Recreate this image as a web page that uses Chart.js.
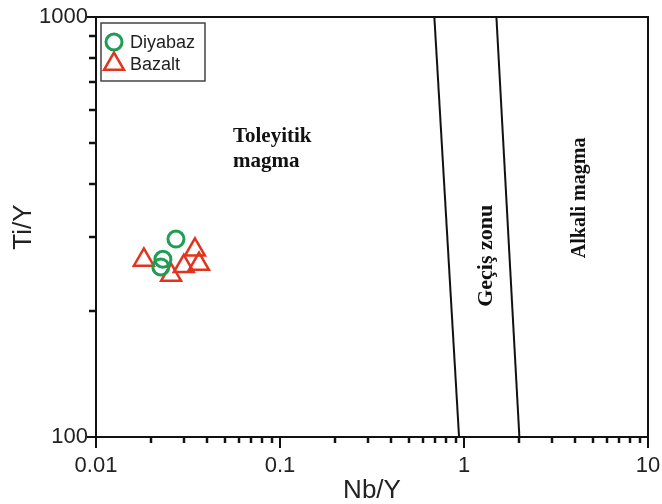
<!DOCTYPE html>
<html>
<head>
<meta charset="utf-8">
<script src="https://cdn.jsdelivr.net/npm/chart.js@4/dist/chart.umd.min.js"></script>
<style>
  html, body { margin: 0; padding: 0; background: #fff; }
  #wrap { width: 662px; height: 504px; }
</style>
</head>
<body>
<div id="wrap"><canvas id="ch"></canvas></div>
<script>
// ── Dados ──
const diyabazX = [0.0272, 0.0231, 0.0225];
const diyabazY = [296, 265, 254];
const bazaltX  = [0.0182, 0.0256, 0.0345, 0.0300, 0.0363];
const bazaltY  = [264, 243, 279, 255, 258];

// limites dos campos (Nb/Y em Ti/Y = 1000 e Ti/Y = 100)
const limite1X = [0.69, 0.94];
const limite2X = [1.50, 2.00];
const limiteY  = [1000, 100];

const xTickLabels = [0.01, 0.1, 1, 10];
const yTickLabels = [100, 1000];

// rótulos dos campos: [texto, x, y, rotação]
const campos = [
  ['Toleyitik',    0.0555, 504, 0],
  ['magma',        0.0555, 440, 0],
  ['Geçiş zonu',   1.317,  270, -90],
  ['Alkali magma', 4.27,   371, -90],
];

const VERDE = '#1f9d55';
const VERM  = '#e2341d';
const FONTE_CAMPO = { 'Alkali magma': 20, 'Geçiş zonu': 22 };

const pts = (xs, ys) => xs.map((x, i) => ({ x: x, y: ys[i] }));

// ticks menores em escala log
function logTicks(min, max) {
  const out = [];
  for (let d = min; d < max; d *= 10) {
    for (let k = 1; k < 10; k++) out.push(+(d * k).toPrecision(3));
  }
  out.push(max);
  return out;
}

// ── Plugin: ticks, rótulos dos campos e legenda ──
const extrasPlugin = {
  id: 'extras',
  afterDatasetsDraw(chart) {
    const ctx = chart.ctx;
    const xs = chart.scales.x, ys = chart.scales.y;
    const a = chart.chartArea;
    ctx.save();
    ctx.strokeStyle = '#111';
    ctx.lineWidth = 2;
    // moldura
    ctx.strokeRect(a.left, a.top, a.right - a.left, a.bottom - a.top);
    // ticks x
    logTicks(0.01, 10).forEach(v => {
      const px = Math.round(xs.getPixelForValue(v));
      const major = xTickLabels.includes(v);
      ctx.beginPath();
      ctx.moveTo(px, a.bottom);
      ctx.lineTo(px, a.bottom + (major ? 11 : 6));
      ctx.lineWidth = major ? 2 : 2.5;
      ctx.stroke();
    });
    // ticks y
    logTicks(100, 1000).forEach(v => {
      const py = Math.round(ys.getPixelForValue(v));
      const major = yTickLabels.includes(v);
      ctx.beginPath();
      ctx.moveTo(a.left, py);
      ctx.lineTo(a.left - (major ? 9 : 7), py);
      ctx.lineWidth = major ? 2 : 2.5;
      ctx.stroke();
    });

    // rótulos dos campos
    ctx.fillStyle = '#111';
    campos.forEach(c => {
      const px = xs.getPixelForValue(c[1]);
      const py = ys.getPixelForValue(c[2]);
      ctx.save();
      ctx.font = 'bold ' + (FONTE_CAMPO[c[0]] || 21) + 'px "Liberation Serif", "Times New Roman", serif';
      ctx.translate(px, py);
      ctx.rotate(c[3] * Math.PI / 180);
      ctx.textAlign = c[3] ? 'center' : 'left';
      ctx.textBaseline = c[3] ? 'middle' : 'alphabetic';
      ctx.fillText(c[0], 0, 0);
      ctx.restore();
    });

    // legenda
    const lx = a.left + 5, ly = a.top + 6;
    ctx.lineWidth = 1.5;
    ctx.strokeStyle = '#444';
    ctx.strokeRect(lx, ly, 104, 58);
    chart.data.datasets.filter(d => d.label).forEach((d, i) => {
      const cy = ly + 19 + i * 22;
      ctx.save();
      ctx.fillStyle = 'rgba(0,0,0,0)';
      ctx.strokeStyle = d.borderColor;
      ctx.lineWidth = d.borderWidth;
      Chart.helpers.drawPoint(ctx, {
        pointStyle: d.pointStyle, radius: d.pointRadius, borderWidth: d.borderWidth
      }, lx + 13, cy);
      ctx.restore();
      ctx.fillStyle = '#222';
      ctx.font = '18px "Liberation Sans", Arial, sans-serif';
      ctx.textAlign = 'left';
      ctx.textBaseline = 'middle';
      ctx.fillText(d.label, lx + 29, cy + 1);
    });
    ctx.restore();
  }
};

const limite = (xs) => ({
  type: 'line', data: pts(xs, limiteY), borderColor: '#111', borderWidth: 2,
  pointRadius: 0, fill: false, showLine: true
});

new Chart(document.getElementById('ch'), {
  type: 'scatter',
  data: {
    datasets: [
      limite(limite1X),
      limite(limite2X),
      { label: 'Diyabaz', data: pts(diyabazX, diyabazY), pointStyle: 'circle', pointRadius: 8,
        borderColor: VERDE, backgroundColor: 'transparent', borderWidth: 3, pointHoverRadius: 8 },
      { label: 'Bazalt', data: pts(bazaltX, bazaltY), pointStyle: 'triangle', pointRadius: 11.5,
        borderColor: VERM, backgroundColor: 'transparent', borderWidth: 2.5, pointHoverRadius: 11.5 },
    ]
  },
  plugins: [extrasPlugin],
  options: {
    responsive: true, maintainAspectRatio: false, animation: false,
    layout: { padding: { top: 17, right: 10, left: 0, bottom: 0 } },
    plugins: { legend: { display: false }, tooltip: { enabled: false } },
    scales: {
      x: {
        type: 'logarithmic', min: 0.01, max: 10,
        afterBuildTicks: s => { s.ticks = xTickLabels.map(v => ({ value: v })); },
        afterFit: s => { s.height = 67; s.paddingRight = 0; },
        ticks: { color: '#222', font: { family: '"Liberation Sans", Arial', size: 22 }, padding: 6,
                 maxRotation: 0, callback: v => String(v) },
        grid: { display: false, drawTicks: true, tickLength: 10 },
        border: { display: false },
        title: { display: true, text: 'Nb/Y', color: '#222',
                 font: { family: '"Liberation Sans", Arial', size: 26, lineHeight: 1 }, padding: { top: 0, bottom: 0 } }
      },
      y: {
        type: 'logarithmic', min: 100, max: 1000,
        afterBuildTicks: s => { s.ticks = yTickLabels.map(v => ({ value: v })); },
        afterFit: s => { s.width = 96; },
        ticks: { color: '#222', font: { family: '"Liberation Sans", Arial', size: 22 }, padding: 1,
                 callback: v => String(v) },
        grid: { display: false, drawTicks: true, tickLength: 7 },
        border: { display: false },
        title: { display: true, text: 'Ti/Y', color: '#222',
                 font: { family: '"Liberation Sans", Arial', size: 26, lineHeight: 1 }, padding: { top: 11, bottom: 0 } }
      }
    }
  }
});
</script>
</body>
</html>
